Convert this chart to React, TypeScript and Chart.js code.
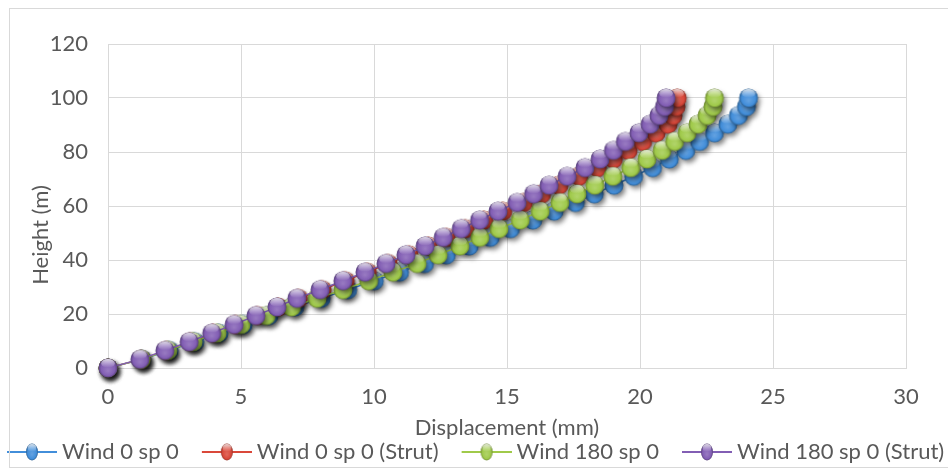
import React, { useEffect, useRef } from "react";
import { Chart, registerables } from "chart.js";

Chart.register(...registerables);

// Heights of the 32 output nodes (m)
const heights = [0, 3.2, 6.5, 9.7, 12.9, 16.1, 19.4, 22.6, 25.8, 29.0, 32.3, 35.5, 38.7, 41.9, 45.2, 48.4, 51.6, 54.8, 58.1, 61.3, 64.5, 67.7, 71.0, 74.2, 77.4, 80.6, 83.9, 87.1, 90.3, 93.5, 96.8, 100];

// Displacements (mm)
const wind0 = [0, 1.28, 2.3, 3.26, 4.17, 5.08, 6.05, 7.02, 8.01, 9.01, 10.01, 10.96, 11.9, 12.72, 13.58, 14.37, 15.13, 15.97, 16.77, 17.57, 18.28, 19.02, 19.76, 20.47, 21.1, 21.72, 22.24, 22.8, 23.3, 23.7, 24.0, 24.08];
const wind0Strut = [0, 1.25, 2.19, 3.1, 3.95, 4.8, 5.62, 6.4, 7.16, 8.05, 8.92, 9.75, 10.53, 11.32, 12.04, 12.72, 13.43, 14.13, 14.84, 15.62, 16.3, 16.95, 17.7, 18.4, 19.0, 19.55, 20.1, 20.6, 21.05, 21.24, 21.35, 21.4];
const wind180 = [0, 1.25, 2.25, 3.2, 4.1, 5.0, 5.95, 6.9, 7.86, 8.83, 9.8, 10.71, 11.62, 12.41, 13.23, 13.98, 14.7, 15.5, 16.25, 16.99, 17.63, 18.3, 18.98, 19.65, 20.26, 20.83, 21.3, 21.77, 22.18, 22.52, 22.74, 22.8];
const wind180Strut = [0, 1.2, 2.14, 3.05, 3.9, 4.74, 5.56, 6.35, 7.1, 7.97, 8.83, 9.66, 10.45, 11.2, 11.92, 12.6, 13.28, 13.97, 14.66, 15.38, 16.0, 16.58, 17.26, 17.93, 18.5, 19.0, 19.45, 19.96, 20.38, 20.71, 20.92, 20.98];

const seriesNames = ["Wind 0 sp 0", "Wind 0 sp 0 (Strut)", "Wind 180 sp 0", "Wind 180 sp 0 (Strut)"];
const seriesValues = [wind0, wind0Strut, wind180, wind180Strut];
const seriesColors: [number, number, number][] = [
  [66, 142, 218],
  [218, 72, 58],
  [160, 202, 74],
  [130, 94, 180],
];

const xTicks = { min: 0, max: 30, step: 5 };
const yTicks = { min: 0, max: 120, step: 20 };
const xTitle = "Displacement (mm)";
const yTitle = "Height (m)";

const FONT = "Lato";
const FS = 22;
const TEXT = "#595959";
const GRID = "#d9d9d9";

function shade(c: [number, number, number], f: number) {
  const m = (v: number) => Math.max(0, Math.min(255, Math.round(f >= 0 ? v + (255 - v) * f : v * (1 + f))));
  return `rgb(${m(c[0])},${m(c[1])},${m(c[2])})`;
}

function paintBall(ctx: CanvasRenderingContext2D, cx: number, cy: number, rx: number, ry: number, c: [number, number, number]) {
  ctx.save();
  ctx.translate(cx, cy);
  ctx.scale(1, ry / rx);
  const r = rx;
  const g = ctx.createRadialGradient(0, r * 0.3, 0, 0, 0, r);
  g.addColorStop(0, shade(c, 0.18));
  g.addColorStop(0.72, shade(c, 0));
  g.addColorStop(1, shade(c, -0.32));
  ctx.fillStyle = g;
  ctx.beginPath();
  ctx.arc(0, 0, r, 0, Math.PI * 2);
  ctx.fill();
  const hg = ctx.createLinearGradient(0, -r * 0.95, 0, -r * 0.05);
  hg.addColorStop(0, "rgba(255,255,255,0.8)");
  hg.addColorStop(1, "rgba(255,255,255,0)");
  ctx.fillStyle = hg;
  ctx.beginPath();
  ctx.ellipse(0, -r * 0.48, r * 0.72, r * 0.46, 0, 0, Math.PI * 2);
  ctx.fill();
  ctx.restore();
}

function makeSphere(c: [number, number, number], r: number) {
  const size = 44;
  const cv = document.createElement("canvas");
  cv.width = size;
  cv.height = size;
  const ctx = cv.getContext("2d")!;
  const cx = size / 2;
  const cy = size / 2;
  ctx.save();
  ctx.shadowColor = "rgba(0,0,0,0.5)";
  ctx.shadowBlur = 5;
  ctx.shadowOffsetX = 2.5;
  ctx.shadowOffsetY = 3.5;
  ctx.fillStyle = shade(c, -0.3);
  ctx.beginPath();
  ctx.arc(cx, cy, r - 0.5, 0, Math.PI * 2);
  ctx.fill();
  ctx.restore();
  paintBall(ctx, cx, cy, r, r, c);
  return cv;
}

// legend box: the visible icon (50px) sits at the right end of the box
const BOX_W = 66;
const LEG_PAD = 1;
function makeLegendIcon(c: [number, number, number]) {
  const w = BOX_W + 12;
  const h = 22;
  const cv = document.createElement("canvas");
  cv.width = w;
  cv.height = h;
  const ctx = cv.getContext("2d")!;
  const x0 = w - 50;
  ctx.strokeStyle = shade(c, 0);
  ctx.lineWidth = 2;
  ctx.beginPath();
  ctx.moveTo(x0, h / 2);
  ctx.lineTo(w, h / 2);
  ctx.stroke();
  paintBall(ctx, x0 + 25, h / 2, 6, 8.5, c);
  return cv;
}

const titlesPlugin = {
  id: "freeTitles",
  afterDraw(chart: any) {
    const ctx = chart.ctx as CanvasRenderingContext2D;
    const area = chart.chartArea;
    ctx.save();
    ctx.font = `${FS}px ${FONT}`;
    ctx.fillStyle = TEXT;
    ctx.textAlign = "center";
    ctx.textBaseline = "middle";
    ctx.fillText(xTitle, (area.left + area.right) / 2, 428);
    ctx.translate(41, 235);
    ctx.rotate(-Math.PI / 2);
    ctx.fillText(yTitle, 0, 0);
    ctx.restore();
  },
};

export default function App() {
  const ref = useRef<HTMLCanvasElement | null>(null);

  useEffect(() => {
    if (!ref.current) return;
    const spheres = seriesColors.map((c) => makeSphere(c, 9.5));
    const icons = seriesColors.map((c) => makeLegendIcon(c));
    const datasets = seriesNames.map((name, i) => ({
      label: name,
      data: heights.map((h, k) => ({ x: seriesValues[i][k], y: h })),
      showLine: true,
      borderColor: shade(seriesColors[i], 0),
      backgroundColor: shade(seriesColors[i], 0),
      borderWidth: 1.5,
      pointStyle: spheres[i] as any,
      pointRadius: 9,
      pointHoverRadius: 9,
      order: 4 - i,
      tension: 0,
      clip: false as any,
      yAxisID: "y",
    }));

    const chart = new Chart(ref.current, {
      type: "scatter",
      data: { datasets: datasets as any },
      plugins: [titlesPlugin],
      options: {
        animation: false,
        responsive: false,
        events: [],
        layout: { padding: { left: -16, right: -10, top: 44, bottom: -3 } },
        plugins: {
          tooltip: { enabled: false },
          legend: {
            position: "bottom",
            align: "start",
            labels: {
              usePointStyle: true,
              pointStyleWidth: BOX_W,
              padding: LEG_PAD,
              color: TEXT,
              font: { family: FONT, size: FS },
              generateLabels: () =>
                seriesNames.map((name, i) => ({
                  text: name,
                  pointStyle: icons[i] as any,
                  fillStyle: "transparent",
                  strokeStyle: "transparent",
                  lineWidth: 0,
                  hidden: false,
                  datasetIndex: i,
                  fontColor: TEXT,
                })),
            },
          },
        },
        scales: {
          x: {
            type: "linear",
            min: xTicks.min,
            max: xTicks.max,
            afterFit: (s: any) => {
              s.height = 72;
            },
            ticks: { stepSize: xTicks.step, color: TEXT, padding: 16, font: { family: FONT, size: FS } },
            grid: { color: GRID, drawTicks: false, lineWidth: 1 },
            border: { color: GRID },
          },
          y: {
            type: "linear",
            position: "left",
            min: yTicks.min,
            max: yTicks.max,
            afterFit: (s: any) => {
              s.width = 124;
            },
            ticks: { stepSize: yTicks.step, color: TEXT, padding: 20, font: { family: FONT, size: FS } },
            grid: { color: GRID, drawTicks: false, lineWidth: 1 },
            border: { color: GRID },
          },
          yRight: {
            type: "linear",
            position: "right",
            min: yTicks.min,
            max: yTicks.max,
            afterFit: (s: any) => {
              s.width = 52;
            },
            ticks: { display: false },
            grid: { display: false, drawTicks: false },
            border: { display: false },
          },
        },
      },
    });
    return () => chart.destroy();
  }, []);

  return (
    <div style={{ position: "fixed", left: 0, top: 0, width: 948, height: 470, background: "#fff" }}>
      <canvas ref={ref} width={948} height={470} style={{ position: "absolute", left: 0, top: 0, width: 948, height: 470 }} />
      <div
        style={{
          position: "absolute",
          left: 9,
          top: 8,
          width: 945,
          height: 460,
          border: `1px solid ${GRID}`,
          boxSizing: "border-box",
          pointerEvents: "none",
        }}
      />
    </div>
  );
}
